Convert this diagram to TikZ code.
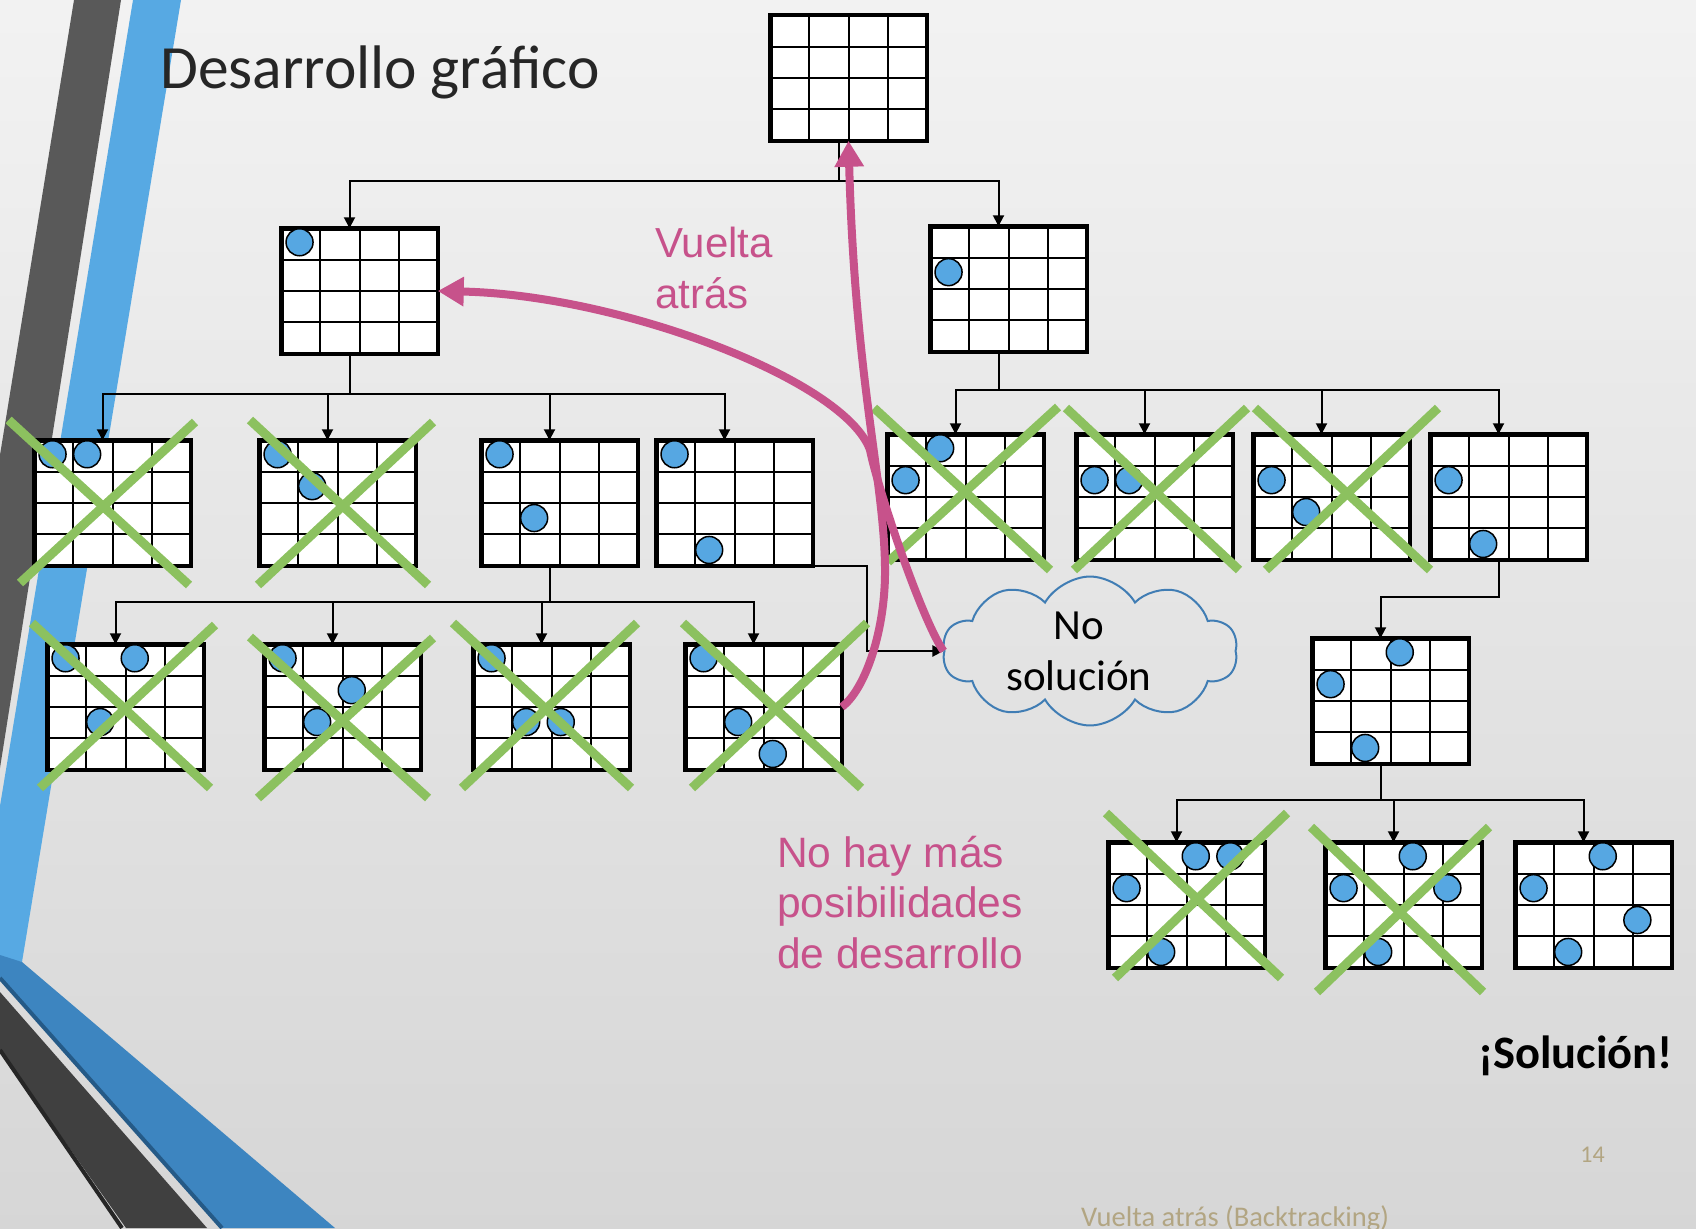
\documentclass[tikz,border=0pt]{standalone}
\usepackage{fontspec}
\setmainfont{Carlito}
\newfontfamily\arialfont{Liberation Sans}
\usetikzlibrary{arrows.meta,calc,shapes.symbols}

\definecolor{queenblue}{RGB}{86,167,226}
\definecolor{crossgreen}{RGB}{140,193,95}
\definecolor{backpink}{RGB}{199,82,139}
\definecolor{cloudblue}{RGB}{64,125,180}
\definecolor{stripeblue}{RGB}{87,169,227}
\definecolor{banddark}{RGB}{61,133,192}
\definecolor{bandedge}{RGB}{37,90,135}
\definecolor{stripedark}{RGB}{89,89,89}
\definecolor{graydark}{RGB}{64,64,64}
\definecolor{titlegray}{RGB}{38,38,38}
\definecolor{footertan}{RGB}{178,165,130}

\newcommand{\queens}[2]{%
  \foreach \qc/\qr in {#2}
    \filldraw[queen] ($(#1.north west)+(18.3+34.6*\qc,14+31.9*\qr)$) circle[radius=13.5pt];}

\begin{document}
\begin{tikzpicture}[
  x=1pt,y=-1pt,
  board/.style={
    rectangle,draw,line width=4.5pt,fill=white,
    anchor=north west,xshift=2.25pt,yshift=-2.25pt,
    minimum width=156.5pt,minimum height=125.5pt,
    inner sep=0pt,outer sep=0pt,
    path picture={
      \foreach \k in {1,2,3}{
        \draw[line width=2pt]
          ($(path picture bounding box.north west)!\k/4!(path picture bounding box.north east)$) --
          ($(path picture bounding box.south west)!\k/4!(path picture bounding box.south east)$);
        \draw[line width=2pt]
          ($(path picture bounding box.north west)!\k/4!(path picture bounding box.south west)$) --
          ($(path picture bounding box.north east)!\k/4!(path picture bounding box.south east)$);
      }
    }
  },
  queen/.style={fill=queenblue,draw=black,line width=1.5pt},
  conn/.style={-{Triangle[length=11pt,width=11pt]},line width=2pt},
  cross/.style={line width=9pt,draw=crossgreen},
  back/.style={-{Triangle[length=26pt,width=28pt]},line width=8pt,draw=backpink}
  ]

  \useasboundingbox (0,0) rectangle (1696,1228);
  \shade[top color=black!5,bottom color=black!16] (0,0) rectangle (1696,1228);

  \fill[stripedark] (74,0) -- (121,0) -- (0,768) -- (0,455) -- cycle;
  \fill[stripeblue] (133,0) -- (181,0) -- (22,962) -- (0,958) -- (0,806) -- cycle;
  \fill[banddark] (0,955) -- (22,962) -- (335,1228) -- (222,1228) -- (0,978) -- cycle;
  \draw[bandedge,line width=4pt] (0,978) -- (222,1228);
  \fill[graydark] (0,992) -- (207,1228) -- (126,1228) -- (0,1050) -- cycle;
  \draw[black!85,line width=4pt] (0,1050) -- (122,1228);

  \node[anchor=base west,font=\fontsize{61.5}{72}\selectfont,text=titlegray,inner sep=0pt]
    (title) at (160,89) {Desarrollo gráfico};

  \node[board] (root) at (768,13) {};
  \node[board] (b1) at (279,226) {};
  \node[board] (b2) at (928,224) {};
  \node[board] (b11) at (32,438) {};
  \node[board] (b12) at (257,438) {};
  \node[board] (b13) at (479,438) {};
  \node[board] (b14) at (654,438) {};
  \node[board] (b131) at (45,642) {};
  \node[board] (b132) at (262,642) {};
  \node[board] (b133) at (471,642) {};
  \node[board] (b134) at (683,642) {};
  \node[board] (b21) at (885,432) {};
  \node[board] (b22) at (1074,432) {};
  \node[board] (b23) at (1251,432) {};
  \node[board] (b24) at (1428,432) {};
  \node[board] (b241) at (1310,636) {};
  \node[board] (b2411) at (1106,840) {};
  \node[board] (b2412) at (1323,840) {};
  \node[board] (b2413) at (1513,840) {};

  \queens{b1}{0/0}
  \queens{b2}{0/1}
  \queens{b11}{0/0,1/0}
  \queens{b12}{0/0,1/1}
  \queens{b13}{0/0,1/2}
  \queens{b14}{0/0,1/3}
  \queens{b131}{0/0,1/2,2/0}
  \queens{b132}{0/0,1/2,2/1}
  \queens{b133}{0/0,1/2,2/2}
  \queens{b134}{0/0,1/2,2/3}
  \queens{b21}{0/1,1/0}
  \queens{b22}{0/1,1/1}
  \queens{b23}{0/1,1/2}
  \queens{b24}{0/1,1/3}
  \queens{b241}{0/1,1/3,2/0}
  \queens{b2411}{0/1,1/3,2/0,3/0}
  \queens{b2412}{0/1,1/3,2/0,3/1}
  \queens{b2413}{0/1,1/3,2/0,3/2}

  \node[cloud,cloud puffs=10,cloud puff arc=120,aspect=2.15,draw=cloudblue,line width=2pt,
    minimum width=295pt,minimum height=137pt,inner sep=0pt,align=center,
    font=\fontsize{43}{51}\selectfont] (nosol) at (1090,651)
    {No\hspace*{22pt}\\solución\hspace*{22pt}};

  \foreach \kid in {b1,b2}
    \draw[conn] ([xshift=-10pt]root.south) -- ++(0,40) -| ([xshift=-10pt]\kid.north);
  \foreach \kid in {b11,b12,b13,b14}
    \draw[conn] ([xshift=-10pt]b1.south) -- ++(0,40) -| ([xshift=-10pt]\kid.north);
  \foreach \kid in {b131,b132,b133,b134}
    \draw[conn] ([xshift=-10pt]b13.south) -- ++(0,36) -| ([xshift=-10pt]\kid.north);
  \foreach \kid in {b21,b22,b23,b24}
    \draw[conn] ([xshift=-10pt]b2.south) -- ++(0,38) -| ([xshift=-10pt]\kid.north);
  \draw[conn] ([xshift=-10pt]b24.south) -- ++(0,37) -| ([xshift=-10pt]b241.north);
  \foreach \kid in {b2411,b2412,b2413}
    \draw[conn] ([xshift=-10pt]b241.south) -- ++(0,36) -| ([xshift=-10pt]\kid.north);
  \draw[conn] ([xshift=-21pt]b14.south east) -- ++(75,0) |- (nosol.west);

  \foreach \xa/\ya/\xb/\yb in {
      8.6/420/189/585, 195/422/20/583,
      250/420/428/585, 433/422/258/585,
      32/623/210/788, 215/625/40/788,
      250/637/428/798, 433/638/258/798,
      453/623/631/788, 637/623/462/788,
      683/623/861/788, 867/623/692/788,
      874/408/1050/570, 1058/407/888/562,
      1066/408/1239/570, 1247/408/1074/570,
      1255/408/1430/570, 1438/408/1266/570,
      1106/813/1281/978, 1287/813/1115/978,
      1311/827/1483/992, 1489/827/1317/992}
    \draw[cross] (\xa,\ya) -- (\xb,\yb);

  \draw[back] (nosol.west) .. controls (922,620) and (878,490) .. (870,450)
    .. controls (845,380) and (620,295) .. (b1.east);
  \draw[back] (b134.east) .. controls (865,690) and (886,630) .. (885,567)
    .. controls (884,480) and (855,380) .. (root.south);

  \node[anchor=base west,align=left,font=\arialfont\fontsize{42}{51}\selectfont,
    text=backpink,inner sep=0pt] (vuelta) at (655,308) {Vuelta\\atrás};
  \node[anchor=base west,align=left,font=\arialfont\fontsize{42.5}{50.5}\selectfont,
    text=backpink,inner sep=0pt] (nomas) at (777,968) {No hay más\\posibilidades\\de desarrollo};
  \node[anchor=base east,font=\bfseries\fontsize{46.5}{55}\selectfont,inner sep=0pt]
    (solucion) at (1673,1068) {¡Solución!};
  \node[anchor=base east,font=\fontsize{24}{29}\selectfont,text=footertan,inner sep=0pt]
    (page) at (1605,1162) {14};
  \node[anchor=base west,font=\fontsize{28.5}{34}\selectfont,text=footertan,inner sep=0pt]
    (footer) at (1081,1226) {Vuelta atrás (Backtracking)};

\end{tikzpicture}
\end{document}
